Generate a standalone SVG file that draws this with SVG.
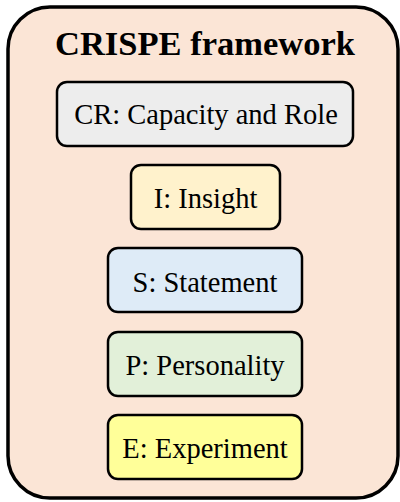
<svg xmlns="http://www.w3.org/2000/svg" width="400" height="502" viewBox="0 0 400 502">
<style>
.box{stroke:#000;stroke-width:2.5}
.t{font-family:"Liberation Serif","Times New Roman",serif;font-size:28.5px;text-anchor:middle;fill:#000}
.title{font-family:"Liberation Serif","Times New Roman",serif;font-size:34.5px;font-weight:bold;text-anchor:middle;fill:#000}
</style>
<rect id="frame" x="8" y="7" width="390" height="491" rx="42" ry="42" fill="#FBE5D6" stroke="#000" stroke-width="3.5"/>
<text class="title" x="205" y="55">CRISPE framework</text>
<g id="connectors"></g>
<g id="cr"><rect class="box" x="57" y="82" width="296" height="64" rx="10" fill="#EDEDED"/><text class="t" x="206" y="124">CR: Capacity and Role</text></g>
<g id="i"><rect class="box" x="131" y="165" width="149" height="64" rx="10" fill="#FFF2CC"/><text class="t" x="205.5" y="208">I: Insight</text></g>
<g id="s"><rect class="box" x="108" y="248" width="194" height="64" rx="10" fill="#DEEBF7"/><text class="t" x="205" y="292">S: Statement</text></g>
<g id="p"><rect class="box" x="108" y="332" width="194" height="64" rx="10" fill="#E2F0D9"/><text class="t" x="205" y="375">P: Personality</text></g>
<g id="e"><rect class="box" x="108" y="415" width="194" height="64" rx="10" fill="#FFFF99"/><text class="t" x="205" y="458">E: Experiment</text></g>
</svg>
